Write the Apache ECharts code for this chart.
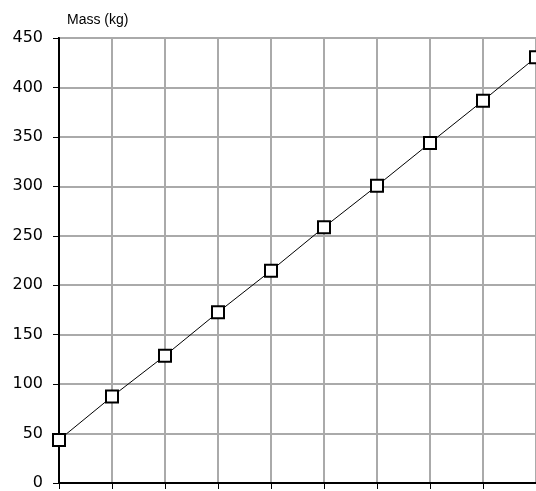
<!DOCTYPE html>
<html>
<head>
<meta charset="utf-8">
<script src="https://cdn.jsdelivr.net/npm/echarts@6/dist/echarts.min.js"></script>
<style>
html,body{margin:0;padding:0;background:#fff;}
#c{width:536px;height:491px;}
</style>
</head>
<body>
<div id="c"></div>
<script>
const categories = ['1','2','3','4','5','6','7','8','9','10'];
const massValues = [43.5, 87.4, 128.8, 172.6, 214.7, 258.6, 300.6, 343.8, 386.6, 430.5];
const yTicks = {min: 0, max: 450, interval: 50};
const yName = 'Mass (kg)';

const chart = echarts.init(document.getElementById('c'), null, {renderer: 'canvas'});
chart.setOption({
  animation: false,
  backgroundColor: '#fff',
  grid: {left: 59, top: 38, right: -3, bottom: 8, show: true, borderColor: '#000', borderWidth: 2, backgroundColor: 'transparent'},
  xAxis: {
    type: 'category',
    data: categories,
    boundaryGap: false,
    axisLine: {show: true, lineStyle: {color: '#000', width: 2}},
    axisTick: {show: true, length: 6, alignWithLabel: true, lineStyle: {color: '#000', width: 1}},
    axisLabel: {show: false},
    splitLine: {show: true, lineStyle: {color: '#aaaaaa', width: 2}}
  },
  yAxis: {
    type: 'value',
    min: yTicks.min, max: yTicks.max, interval: yTicks.interval,
    name: yName,
    nameLocation: 'end',
    nameGap: 11,
    nameTextStyle: {color: '#000', fontFamily: 'Liberation Sans', fontSize: 14, align: 'left', padding: [0, 0, 0, 8]},
    axisLine: {show: true, lineStyle: {color: '#000', width: 2}},
    axisTick: {show: true, length: 6, lineStyle: {color: '#000', width: 1}},
    axisLabel: {color: '#000', fontFamily: 'DejaVu Sans', fontSize: 16, margin: 16},
    splitLine: {show: true, lineStyle: {color: '#aaaaaa', width: 2}}
  },
  series: [{
    type: 'line',
    data: massValues,
    clip: false,
    symbol: 'rect',
    symbolSize: 12,
    itemStyle: {color: '#fff', borderColor: '#000', borderWidth: 2},
    lineStyle: {color: '#000', width: 1},
    z: 5
  }]
});
</script>
</body>
</html>
